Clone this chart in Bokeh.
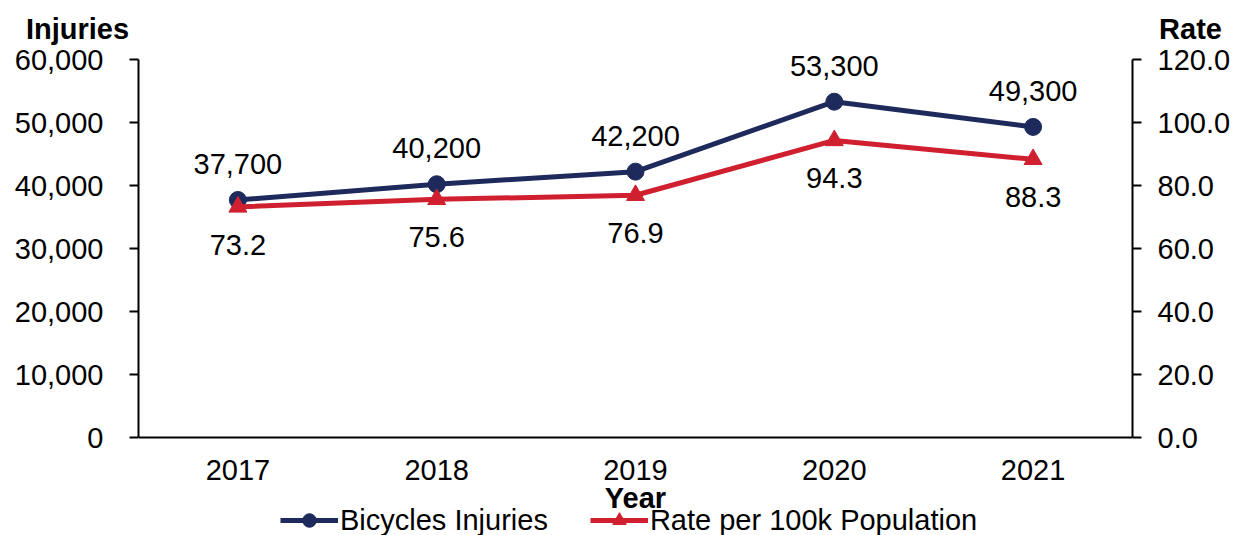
from bokeh.plotting import figure
from bokeh.layouts import column
from bokeh.models import (ColumnDataSource, Range1d, LinearAxis, SingleIntervalTicker,
                          NumeralTickFormatter, Legend, LegendItem, LabelSet, Label)
from bokeh.core.properties import value
from bokeh.embed import file_html
from bokeh.resources import INLINE

years = ["2017", "2018", "2019", "2020", "2021"]
injuries = [37700, 40200, 42200, 53300, 49300]
rates = [73.2, 75.6, 76.9, 94.3, 88.3]
axis_titles = ["Injuries", "Rate"]
x_title = "Year"
series_names = ["Bicycles Injuries", "Rate per 100k Population"]

NAVY = "#1f2a5c"
RED = "#d0202f"
FONT = "Liberation Sans"
FS = "29px"

W = 1234
HEAD = 45                   # header strip holding the two axis titles
H = 535 - HEAD
TOP, BOT = 59 - HEAD, 437 - HEAD   # rows of the value-axis extremes inside the main figure
INJ_MAX, RATE_MAX = 60000, 120
span = BOT - TOP

# ---------- header with axis titles ----------
head = figure(width=W, height=HEAD, x_range=Range1d(0, W), y_range=Range1d(0, HEAD),
              x_axis_type=None, y_axis_type=None, output_backend="svg",
              toolbar_location=None, min_border=0, outline_line_color=None)
head.frame_align = False
head.xgrid.grid_line_color = None
head.ygrid.grid_line_color = None
for txt, xc in zip(axis_titles, [77, 1190]):
    head.add_layout(Label(x=xc, y=HEAD - 28, text=txt, text_align="center",
                          text_baseline="middle", text_font=FONT, text_font_size=FS,
                          text_font_style="bold", text_color="black"))

# ---------- main chart ----------
def rng(vmax):
    per_px = vmax / span
    return Range1d(-(H - BOT) * per_px, vmax + TOP * per_px)

src = ColumnDataSource(dict(
    year=years, inj=injuries, rate=rates,
    inj_txt=[f"{v:,}" for v in injuries],
    rate_txt=[f"{v:.1f}" for v in rates],
))

p = figure(x_range=years, y_range=rng(INJ_MAX), width=W, height=H,
           output_backend="svg", toolbar_location=None,
           min_border_left=138, min_border_right=102, min_border_top=0, min_border_bottom=0)
p.frame_align = False
p.extra_y_ranges = {"rate": rng(RATE_MAX)}
p.outline_line_color = None
p.xgrid.grid_line_color = None
p.ygrid.grid_line_color = None

def style_y(ax, standoff):
    ax.axis_line_width = 2
    ax.major_tick_line_width = 2
    ax.major_tick_in = 0
    ax.major_tick_out = 9
    ax.minor_tick_line_color = None
    ax.major_label_standoff = standoff
    ax.major_label_text_font = FONT
    ax.major_label_text_font_size = FS
    ax.major_label_text_color = "black"

ya = p.yaxis[0]
ya.ticker = SingleIntervalTicker(interval=10000)
ya.formatter = NumeralTickFormatter(format="0,0")
ya.bounds = (0, INJ_MAX)
style_y(ya, 26)

ra = LinearAxis(y_range_name="rate", ticker=SingleIntervalTicker(interval=20),
                formatter=NumeralTickFormatter(format="0.0"), bounds=(0, RATE_MAX))
style_y(ra, 16)
p.add_layout(ra, "right")

xa = p.xaxis[0]
xa.fixed_location = 0
xa.axis_line_width = 2
xa.major_tick_line_color = None
xa.major_tick_in = 0
xa.major_tick_out = 0
xa.major_label_standoff = 22
xa.major_label_text_font = FONT
xa.major_label_text_font_size = FS
xa.major_label_text_color = "black"

l1 = p.line("year", "inj", source=src, line_color=NAVY, line_width=5)
s1 = p.scatter("year", "inj", source=src, marker="circle", size=17,
               fill_color=NAVY, line_color=NAVY)
l2 = p.line("year", "rate", source=src, line_color=RED, line_width=5, y_range_name="rate")
s2 = p.scatter("year", "rate", source=src, marker="triangle", size=18,
               fill_color=RED, line_color=RED, y_range_name="rate")

p.add_layout(LabelSet(x="year", y="inj", text="inj_txt", source=src, y_offset=36,
                      text_align="center", text_baseline="middle",
                      text_font=value(FONT), text_font_size=value(FS), text_color="black"))
p.add_layout(LabelSet(x="year", y="rate", text="rate_txt", source=src, y_offset=-38,
                      y_range_name="rate",
                      text_align="center", text_baseline="middle",
                      text_font=value(FONT), text_font_size=value(FS), text_color="black"))

per_px = INJ_MAX / span
p.add_layout(Label(x=2.5, y=-60 * per_px, text=x_title,
                   text_align="center", text_baseline="middle",
                   text_font=FONT, text_font_size=FS, text_font_style="bold",
                   text_color="black"))

legend = Legend(items=[LegendItem(label=series_names[0], renderers=[l1, s1]),
                       LegendItem(label=series_names[1], renderers=[l2, s2])],
                orientation="horizontal", location=(142, -2),
                glyph_width=58, glyph_height=34, label_standoff=2, spacing=42,
                padding=0, margin=0, border_line_color=None, background_fill_alpha=0,
                label_text_font=FONT, label_text_font_size=FS, label_text_color="black",
                label_height=30)
p.add_layout(legend, "center")

open("out.html", "w").write(file_html(column(head, p, spacing=0), INLINE))
